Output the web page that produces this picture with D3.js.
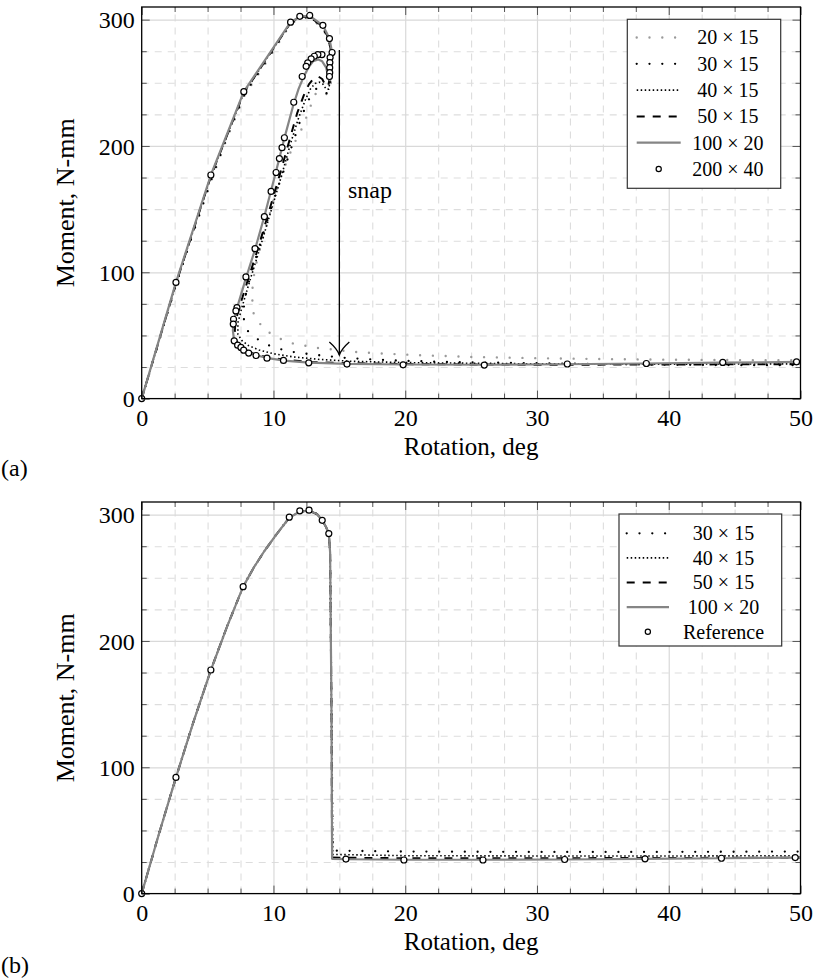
<!DOCTYPE html>
<html>
<head>
<meta charset="utf-8">
<script src="https://cdn.jsdelivr.net/npm/d3@7"></script>
<style>
  body { margin: 0; background: #fff; }
  svg { display: block; font-family: "Liberation Serif", "DejaVu Serif", serif; }
  .grid-major line { stroke: #d9d9d9; stroke-width: 1.2; }
  .grid-minor line { stroke: #dddddd; stroke-width: 1.1; stroke-dasharray: 7 6; }
  .grid-major path, .grid-minor path, .tk path { display: none; }
  .tk line { stroke: #555; stroke-width: 1; }
  .tk text { font-size: 24px; fill: #000; font-family: "Liberation Serif", serif; }
</style>
</head>
<body>
<svg id="chart" width="817" height="980"></svg>
<script>
// ---- data, panel (a): [rotation deg, moment N-mm] ----
const a20x15 = [[0,0],[1.3,45],[2.6,90],[3.9,131],[5.3,173],[6.5,207],[7.8,240],[9.5,267],[11.3,296.5],[12.0,301],[12.7,301.5],[13.7,294],[14.2,283],[14.45,268],[14.4,252],[14.2,242],[13.9,240.5],[13.6,242.5],[13.35,243],[13.1,240],[12.8,231],[12.4,220],[12.0,210],[11.55,201.7],[11.2,192.5],[10.83,182.8],[10.45,172],[10.07,160],[9.5,138],[9.0,120],[8.68,106],[8.42,92],[8.4,77],[8.5,67],[9.06,58],[9.77,51.5],[10.6,47],[11.5,43.6],[12.5,41.7],[13.4,40],[14.4,39],[16.1,37],[18.2,35.7],[21,34.4],[25,33],[30,32],[35,31.3],[40,30.8],[45,30.5],[50,30.3]];
const a30x15 = [[0,0],[1.3,45],[2.6,90],[3.9,131],[5.3,174],[6.5,208],[7.8,241],[9.5,268],[11.3,297],[12.0,301.5],[12.7,302],[13.7,294.5],[14.2,284],[14.4,271],[14.35,254],[14.2,243],[14.0,241.5],[13.8,244],[13.5,246],[13.2,245],[12.9,241],[12.5,233],[12.0,219],[11.4,200],[10.8,181],[10.2,163],[9.5,140],[8.8,116],[8.2,95],[7.8,78],[7.7,65],[8.0,54],[8.8,47],[9.6,42.3],[10.6,39],[11.7,36.5],[13.4,34.4],[15.1,32.5],[17.2,31.2],[19.2,30.2],[22,29.3],[26,28.5],[30,28],[35,27.3],[40,26.8],[45,26.5],[50,26.5]];
const a40x15 = [[0,0],[2.6,91],[5.25,176],[7.75,242],[11.3,297.5],[12.0,302],[12.7,302.5],[13.7,295],[14.2,285],[14.4,272],[14.35,256],[14.2,245],[14.0,245],[13.75,249],[13.5,250.5],[13.15,249.5],[12.8,245],[12.4,236],[11.9,222],[11.3,202],[10.6,176],[9.8,148],[9.0,120],[8.2,93],[7.6,72],[7.3,60],[7.3,51],[7.6,46],[8.1,42],[8.9,38.5],[10,35.5],[11.5,33],[13.5,31],[16,29.5],[20,28.5],[30,27.5],[40,27.3],[50,27.5]];
const a50x15 = [[0,0],[2.6,91],[5.25,176],[7.75,242],[11.3,297.5],[12.0,302],[12.7,302.5],[13.7,295],[14.2,285],[14.4,273],[14.35,258],[14.15,247],[13.95,248],[13.7,253],[13.4,255],[13.05,253.5],[12.7,249],[12.3,240],[11.8,226],[11.2,204],[10.5,178],[9.6,146],[8.8,118],[8.0,92],[7.4,72],[7.1,60],[7.05,50],[7.25,44],[7.7,40],[8.4,36],[9.4,33],[10.8,30.8],[12.8,29],[16,28],[20,27.3],[30,26.8],[40,27],[50,27.3]];
const a100x20 = [[0,0],[2.6,92],[5.25,177],[7.75,243],[11.3,298],[12.0,302.4],[12.75,303],[13.75,295.5],[14.25,285],[14.45,274],[14.42,262],[14.3,252],[14.15,255],[14.0,262],[13.7,267],[13.4,268.5],[13.0,267],[12.65,262],[12.3,255],[11.9,245],[11.5,232],[10.8,205],[10.2,180],[9.3,144],[8.6,118],[7.9,95],[7.3,74],[7.0,62],[6.92,54],[7.0,47],[7.3,42],[7.8,38],[8.6,34.5],[9.6,32],[10.8,30],[12.7,28.5],[15.6,27.5],[20,27],[26,26.8],[32,27.2],[38,27.8],[44,28.4],[50,29]];
const a200x40 = [[0,0],[2.6,92],[5.25,177],[7.75,243],[11.3,298],[12.0,302.6],[12.75,303.3],[13.75,295.5],[14.25,285],[14.45,274],[14.3,270],[14.28,266],[14.27,262],[14.27,258],[14.25,255],[13.68,272.3],[13.37,272.3],[13.1,271],[12.86,269],[12.6,265.8],[12.48,263],[12.18,255],[11.54,234.6],[10.83,206.5],[10.65,198.6],[10.45,190],[10.2,179],[9.82,164],[9.31,144],[8.6,118.7],[7.91,96.3],[7.23,72],[7.15,69.4],[6.97,62.8],[6.95,59],[7.02,45.7],[7.28,42.3],[7.53,40.5],[7.74,38.3],[8.12,36],[8.68,34.1],[9.51,32],[10.76,30.2],[12.68,28.3],[15.58,27.3],[19.84,26.7],[26.0,26.5],[32.3,27.4],[38.3,27.8],[44.1,28.6],[49.7,29.1]];
const legendA = ["20 × 15", "30 × 15", "40 × 15", "50 × 15", "100 × 20", "200 × 40"];

// ---- data, panel (b) ----
const riseB = [[0,0],[1.3,47],[2.6,92],[3.9,135],[5.25,177],[6.5,212],[7.7,243],[8.5,258],[9.3,271],[10.2,284],[11.2,297.5],[12.0,302.5],[12.7,303],[13.3,300.5],[13.7,295.5],[14.0,290],[14.2,285]];
const b30x15 = [...riseB, [14.3,270],[14.4,150],[14.5,34],[20,33.3],[30,33],[40,33],[50,33.3]];
const b40x15 = [...riseB, [14.3,270],[14.4,150],[14.5,31],[20,30],[30,29.8],[40,29.8],[50,30]];
const b50x15 = [...riseB, [14.3,270],[14.4,150],[14.45,28.5],[20,28],[30,28],[40,28.2],[50,28.5]];
const b100x20 = [...riseB, [14.3,270],[14.4,150],[14.45,27.5],[15.5,27.2],[20,26.8],[26,26.8],[32,27],[38,27.5],[44,28],[50,28.5]];
const bRef = [[0,0],[2.6,92],[5.25,177],[7.7,243],[11.2,298],[12.0,303],[12.7,303.5],[13.7,295.5],[14.2,285],[15.5,27.3],[19.9,26.6],[25.9,26.6],[32.1,27],[38.2,27.5],[44,28],[49.6,28.5]];
const legendB = ["30 × 15", "40 × 15", "50 × 15", "100 × 20", "Reference"];

// ---- axes ----
const xTicks = [0, 10, 20, 30, 40, 50];
const yTicks = [0, 100, 200, 300];
const xMinor = [2.5, 5, 7.5, 12.5, 15, 17.5, 22.5, 25, 27.5, 32.5, 35, 37.5, 42.5, 45, 47.5];
const yMinor = [25, 50, 75, 125, 150, 175, 225, 250, 275];
const xDomain = [0, 50];
const yDomain = [0, 310];

// line styles
const styles = {
  s20:  { stroke: "#9a9a9a", width: 2.4, dash: "0 12.8", cap: "round" },
  s30:  { stroke: "#000", width: 2.3, dash: "0 12.8", cap: "round" },
  s40:  { stroke: "#000", width: 1.6, dash: "1.5 2.5", cap: "butt" },
  s50:  { stroke: "#000", width: 2, dash: "8 8", cap: "butt" },
  s100: { stroke: "#858585", width: 2.2, dash: null, cap: "butt" },
  mark: { marker: true }
};

const svg = d3.select("#chart");
const left = 141.7, right = 800.5;

function drawPanel(cfg) {
  const x = d3.scaleLinear().domain(xDomain).range([left, right]);
  const y = d3.scaleLinear().domain(yDomain).range([cfg.bottom, cfg.top]);
  const w = right - left, h = cfg.bottom - cfg.top;
  const g = svg.append("g");

  // grid
  g.append("g").attr("class", "grid-minor")
    .attr("transform", "translate(0," + cfg.bottom + ")")
    .call(d3.axisBottom(x).tickValues(xMinor).tickSize(-h).tickFormat(""));
  g.append("g").attr("class", "grid-minor")
    .attr("transform", "translate(" + left + ",0)")
    .call(d3.axisLeft(y).tickValues(yMinor).tickSize(-w).tickFormat(""));
  g.append("g").attr("class", "grid-major")
    .attr("transform", "translate(0," + cfg.bottom + ")")
    .call(d3.axisBottom(x).tickValues(xTicks.slice(1, -1)).tickSize(-h).tickFormat(""));
  g.append("g").attr("class", "grid-major")
    .attr("transform", "translate(" + left + ",0)")
    .call(d3.axisLeft(y).tickValues(yTicks.slice(1)).tickSize(-w).tickFormat(""));

  // series
  const line = d3.line().x(d => x(d[0])).y(d => y(d[1]));
  cfg.series.forEach(s => {
    const st = styles[s.style];
    if (st.marker) {
      g.append("g").selectAll("circle").data(s.data).enter().append("circle")
        .attr("cx", d => x(d[0])).attr("cy", d => y(d[1])).attr("r", 3)
        .attr("fill", "#fff").attr("stroke", "#000").attr("stroke-width", 1.2);
    } else {
      g.append("path").datum(s.data)
        .attr("d", line)
        .attr("fill", "none")
        .attr("stroke", st.stroke)
        .attr("stroke-width", st.width)
        .attr("stroke-dasharray", st.dash)
        .attr("stroke-linecap", st.cap)
        .attr("stroke-linejoin", "round");
    }
  });

  // ticks (inside, all four sides)
  const tk = (axis, tr) => g.append("g").attr("class", "tk").attr("transform", tr).call(axis);
  tk(d3.axisBottom(x).tickValues(xMinor).tickSize(-5).tickFormat(""), "translate(0," + cfg.bottom + ")");
  tk(d3.axisTop(x).tickValues(xMinor).tickSize(-5).tickFormat(""), "translate(0," + cfg.top + ")");
  tk(d3.axisLeft(y).tickValues(yMinor).tickSize(-5).tickFormat(""), "translate(" + left + ",0)");
  tk(d3.axisRight(y).tickValues(yMinor).tickSize(-5).tickFormat(""), "translate(" + right + ",0)");
  tk(d3.axisTop(x).tickValues(xTicks).tickSize(-8).tickFormat(""), "translate(0," + cfg.top + ")");
  tk(d3.axisRight(y).tickValues(yTicks).tickSize(-8).tickFormat(""), "translate(" + right + ",0)");
  const xa = tk(d3.axisBottom(x).tickValues(xTicks).tickSize(-8).tickPadding(10), "translate(0," + cfg.bottom + ")");
  const ya = tk(d3.axisLeft(y).tickValues(yTicks).tickSize(-8).tickPadding(7), "translate(" + left + ",0)");
  xa.selectAll("text").attr("dy", "0.71em");
  ya.selectAll("text").attr("dy", "0.34em");

  // frame
  g.append("rect").attr("x", left).attr("y", cfg.top).attr("width", w).attr("height", h)
    .attr("fill", "none").attr("stroke", "#000").attr("stroke-width", 1.3);

  // axis labels
  g.append("text").attr("x", (left + right) / 2).attr("y", cfg.bottom + 56)
    .attr("text-anchor", "middle").attr("font-size", 25).text("Rotation, deg");
  g.append("text").attr("transform", "translate(74," + ((cfg.top + cfg.bottom) / 2) + ") rotate(-90)")
    .attr("text-anchor", "middle").attr("font-size", 26).text("Moment, N-mm");
  g.append("text").attr("x", 1).attr("y", cfg.panelY).attr("font-size", 24).text(cfg.panel);

  // legend
  const L = cfg.legend;
  g.append("rect").attr("x", L.x).attr("y", L.y).attr("width", L.w).attr("height", L.h)
    .attr("fill", "#fff").attr("stroke", "#333").attr("stroke-width", 1.2);
  cfg.series.forEach((s, i) => {
    const st = styles[s.style];
    const ry = L.row0 + i * L.step;
    if (st.marker) {
      g.append("circle").attr("cx", (L.sx0 + L.sx1) / 2).attr("cy", ry).attr("r", 2.6)
        .attr("fill", "#fff").attr("stroke", "#000").attr("stroke-width", 1.2);
    } else {
      g.append("line").attr("x1", L.sx0).attr("x2", L.sx1).attr("y1", ry).attr("y2", ry)
        .attr("stroke", st.stroke).attr("stroke-width", st.width)
        .attr("stroke-dasharray", st.dash).attr("stroke-linecap", st.cap);
    }
    g.append("text").attr("x", L.tx).attr("y", ry).attr("dy", "0.34em")
      .attr("text-anchor", "middle").attr("font-size", 20)
      .text(cfg.labels[i].replace(/ /g, "\u2005"));
  });

  return { x, y, g };
}

const pa = drawPanel({
  top: 7, bottom: 398.6, panel: "(a)", panelY: 476,
  series: [
    { data: a20x15, style: "s20" }, { data: a30x15, style: "s30" },
    { data: a40x15, style: "s40" }, { data: a50x15, style: "s50" },
    { data: a100x20, style: "s100" }, { data: a200x40, style: "mark" }
  ],
  labels: legendA,
  legend: { x: 627.3, y: 19.3, w: 153.4, h: 169, row0: 37.5, step: 26.3, sx0: 636.7, sx1: 680.7, tx: 727.8 }
});

// snap annotation
pa.g.append("line").attr("x1", pa.x(15)).attr("x2", pa.x(15))
  .attr("y1", pa.y(276)).attr("y2", pa.y(34.5))
  .attr("stroke", "#000").attr("stroke-width", 1.3);
const tipX = pa.x(15), tipY = pa.y(34.5);
pa.g.append("path")
  .attr("d", `M${tipX - 10},${tipY - 13} Q${tipX - 2},${tipY - 6} ${tipX},${tipY} Q${tipX + 2},${tipY - 6} ${tipX + 10},${tipY - 13}`)
  .attr("fill", "none").attr("stroke", "#000").attr("stroke-width", 1.3);
pa.g.append("text").attr("x", 348).attr("y", 198).attr("font-size", 24).text("snap");

drawPanel({
  top: 502, bottom: 893.6, panel: "(b)", panelY: 973,
  series: [
    { data: b30x15, style: "s30" }, { data: b40x15, style: "s40" },
    { data: b50x15, style: "s50" }, { data: b100x20, style: "s100" },
    { data: bRef, style: "mark" }
  ],
  labels: legendB,
  legend: { x: 619, y: 514, w: 162.7, h: 132, row0: 533.3, step: 24.6, sx0: 626.7, sx1: 669, tx: 723.5 }
});
</script>
</body>
</html>
